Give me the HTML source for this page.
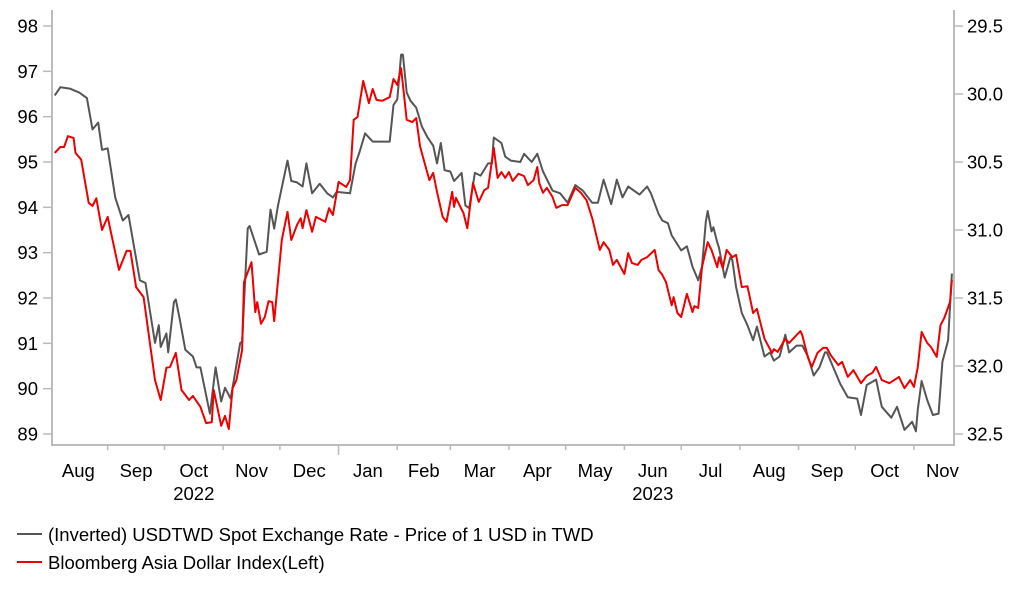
<!DOCTYPE html>
<html><head><meta charset="utf-8"><style>
body{margin:0;background:#fff;width:1022px;height:597px;overflow:hidden;font-family:"Liberation Sans",sans-serif}
text{font-family:"Liberation Sans",sans-serif;fill:#000}
</style></head><body>
<svg id="chart" width="1022" height="597" viewBox="0 0 1022 597" xmlns="http://www.w3.org/2000/svg">
<g id="axes"></g>
<g id="series"></g>
<g id="legend">
<line x1="17" y1="534" x2="42" y2="534" stroke="#555" stroke-width="2"/>
<text x="48" y="541" font-size="18.5">(Inverted) USDTWD Spot Exchange Rate - Price of 1 USD in TWD</text>
<line x1="17" y1="562" x2="42" y2="562" stroke="#e00" stroke-width="2"/>
<text x="48" y="569" font-size="18.5">Bloomberg Asia Dollar Index(Left)</text>
</g>
</svg>
<script>
// days since 2022-08-01
const leftTicks=[98,97,96,95,94,93,92,91,90,89];
const rightTicks=["29.5","30.0","30.5","31.0","31.5","32.0","32.5"];
const monthLabels=["Aug","Sep","Oct","Nov","Dec","Jan","Feb","Mar","Apr","May","Jun","Jul","Aug","Sep","Oct","Nov"];
const monthStartDays=[0,31,61,92,122,153,184,212,243,273,304,334,365,396,426,457,487];
const yearLabels=[{t:"2022",m:2},{t:"2023",m:10}];
const grayData=[[3,30.01],[6,29.95],[11,29.96],[16,29.99],[20,30.03],[23,30.26],[26,30.21],[28,30.41],[31,30.40],[35,30.76],[39,30.93],[42,30.89],[45,31.13],[48,31.37],[51,31.39],[56,31.83],[58,31.70],[59,31.86],[62,31.76],[63,31.90],[66,31.53],[67,31.51],[69,31.65],[72,31.88],[76,31.93],[78,32.01],[80,32.01],[85,32.35],[88,32.01],[91,32.26],[93,32.16],[96,32.24],[101,31.83],[102,31.82],[105,30.99],[106,30.97],[111,31.18],[115,31.16],[117,30.85],[119,30.99],[121,30.82],[126,30.49],[128,30.64],[131,30.65],[134,30.68],[136,30.51],[139,30.73],[143,30.66],[147,30.73],[150,30.76],[152,30.72],[159,30.73],[162,30.51],[164,30.43],[167,30.29],[171,30.35],[180,30.35],[182,30.08],[184,30.04],[186,29.71],[187,29.71],[189,29.99],[191,30.05],[194,30.10],[197,30.24],[200,30.32],[203,30.38],[205,30.51],[207,30.36],[209,30.56],[212,30.57],[214,30.64],[218,30.58],[220,30.82],[222,30.84],[225,30.58],[228,30.60],[232,30.51],[234,30.51],[235,30.32],[239,30.36],[241,30.46],[244,30.49],[249,30.50],[251,30.44],[255,30.50],[258,30.44],[261,30.57],[266,30.71],[270,30.73],[274,30.80],[278,30.67],[282,30.71],[287,30.80],[290,30.80],[293,30.63],[297,30.81],[300,30.63],[303,30.76],[306,30.68],[312,30.74],[316,30.68],[318,30.73],[322,30.88],[324,30.93],[327,30.95],[329,31.04],[334,31.15],[337,31.12],[340,31.27],[343,31.37],[345,31.27],[347,30.94],[348,30.86],[350,31.01],[351,30.98],[353,31.09],[354,31.13],[357,31.35],[360,31.20],[361,31.22],[363,31.42],[366,31.61],[369,31.70],[372,31.81],[374,31.71],[378,31.93],[381,31.90],[383,31.96],[386,31.93],[389,31.77],[391,31.90],[395,31.85],[398,31.85],[401,31.93],[404,32.07],[407,32.01],[410,31.90],[411,31.90],[418,32.13],[422,32.23],[427,32.24],[429,32.36],[432,32.14],[437,32.10],[440,32.30],[445,32.38],[448,32.30],[452,32.47],[456,32.41],[458,32.48],[459,32.32],[461,32.11],[464,32.25],[467,32.36],[470,32.35],[472,31.97],[475,31.81],[477,31.32]];
const redData=[[3,95.20],[6,95.33],[8,95.33],[10,95.57],[13,95.53],[14,95.20],[17,95.05],[21,94.10],[23,94.03],[25,94.20],[28,93.50],[31,93.79],[33,93.39],[37,92.62],[41,93.04],[43,93.04],[46,92.24],[50,92.02],[56,90.19],[59,89.75],[62,90.46],[64,90.48],[67,90.79],[70,89.97],[74,89.75],[76,89.84],[80,89.60],[83,89.24],[86,89.26],[87,89.97],[91,89.18],[93,89.40],[95,89.11],[97,90.01],[99,90.19],[102,90.85],[103,92.35],[107,92.79],[109,91.69],[110,91.91],[112,91.43],[114,91.58],[116,91.93],[118,91.91],[119,91.49],[123,93.28],[126,93.90],[128,93.28],[131,93.61],[133,93.76],[134,93.54],[136,93.94],[139,93.46],[141,93.79],[146,93.68],[148,93.98],[150,93.83],[153,94.56],[157,94.45],[159,94.60],[161,95.93],[163,95.99],[166,96.79],[169,96.30],[171,96.61],[173,96.37],[176,96.35],[180,96.43],[182,96.83],[184,96.70],[186,97.07],[189,95.93],[192,95.88],[194,95.97],[196,95.35],[199,94.89],[201,94.60],[203,94.76],[205,94.34],[208,93.79],[210,93.68],[213,94.34],[214,94.01],[215,94.21],[219,93.87],[221,93.54],[224,94.54],[227,94.12],[230,94.38],[232,94.43],[235,95.31],[237,94.65],[239,94.78],[241,94.65],[243,94.78],[245,94.58],[248,94.74],[251,94.69],[253,94.49],[256,94.60],[258,94.89],[259,94.54],[261,94.32],[263,94.43],[266,94.23],[268,93.99],[271,94.05],[274,94.05],[278,94.43],[281,94.32],[284,94.16],[287,93.76],[291,93.06],[293,93.23],[296,93.06],[298,92.73],[300,92.84],[304,92.53],[306,92.99],[308,92.77],[311,92.73],[313,92.84],[316,92.90],[320,93.06],[322,92.62],[324,92.51],[326,92.35],[329,91.84],[330,92.02],[332,91.67],[334,91.58],[337,92.09],[340,91.69],[341,91.82],[343,91.78],[345,92.68],[348,93.23],[350,93.06],[353,92.68],[354,92.90],[356,92.66],[358,93.06],[361,92.90],[363,92.95],[366,92.24],[369,92.26],[370,92.07],[372,91.67],[374,91.76],[378,91.10],[382,90.79],[383,90.87],[385,90.81],[389,91.10],[391,91.01],[397,91.27],[398,91.18],[401,90.68],[403,90.48],[406,90.79],[409,90.90],[411,90.90],[413,90.74],[417,90.52],[419,90.59],[422,90.26],[425,90.41],[429,90.12],[432,90.28],[435,90.35],[437,90.48],[440,90.19],[444,90.12],[449,90.26],[452,90.01],[455,90.19],[457,90.04],[459,90.48],[461,91.25],[464,91.01],[466,90.92],[469,90.70],[471,91.40],[473,91.56],[476,91.91],[477,92.40]];

const NS="http://www.w3.org/2000/svg";
const X0=52,X1=954,Y0=26,Y1=434,AXY=445;
const FS=18.5;
const xS=d=>49+d*(865/457);
const yL=v=>Y0+(98-v)*(Y1-Y0)/9;
const yR=v=>Y0+(v-29.5)*(Y1-Y0)/3;
function mk(tag,at,parent){const e=document.createElementNS(NS,tag);for(const k in at)e.setAttribute(k,at[k]);parent.appendChild(e);return e;}
const axes=document.getElementById('axes'),series=document.getElementById('series');
const ax=mk('path',{d:`M${X0},${Y0-16}V${AXY}H${X1}V${Y0-16}`,fill:'none',stroke:'#bbb','stroke-width':2},axes);


leftTicks.forEach(v=>{const y=yL(v);
 const t=mk('line',{x1:X0-9,x2:X0,y1:y,y2:y,stroke:'#bbb','stroke-width':1.5},axes);
 
 
 const l=mk('text',{x:38,y:y+6.5,'text-anchor':'end','font-size':FS},axes);l.textContent=v;
 
 });
rightTicks.forEach(s=>{const y=yR(parseFloat(s));
 const t=mk('line',{x1:X1,x2:X1+9,y1:y,y2:y,stroke:'#bbb','stroke-width':1.5},axes);
 
 
 const l=mk('text',{x:967,y:y+6.5,'font-size':FS},axes);l.textContent=s;
 
 });
monthLabels.forEach((m,i)=>{
 const xa=xS(monthStartDays[i]),xb=xS(monthStartDays[i+1]);
 if(i>0){const t=mk('line',{x1:xa,x2:xa,y1:AXY,y2:AXY+(monthStartDays[i]===153?10:5),stroke:'#bbb','stroke-width':1.5},axes);
 
 }
 const l=mk('text',{x:(xa+Math.min(xb,X1+20))/2,y:477,'text-anchor':'middle','font-size':FS},axes);l.textContent=m;
 
 });
yearLabels.forEach(o=>{const xc=(xS(monthStartDays[o.m])+xS(monthStartDays[o.m+1]))/2;
 const l=mk('text',{x:xc,y:500,'text-anchor':'middle','font-size':FS},axes);l.textContent=o.t;
 
 });
const g=mk('polyline',{points:grayData.map(p=>xS(p[0]).toFixed(1)+','+yR(p[1]).toFixed(1)).join(' '),fill:'none',stroke:'#555','stroke-width':2,'stroke-linejoin':'round'},series);


const r=mk('polyline',{points:redData.map(p=>xS(p[0]).toFixed(1)+','+yL(p[1]).toFixed(1)).join(' '),fill:'none',stroke:'#e00','stroke-width':2,'stroke-linejoin':'round'},series);


</script>
</body></html>
